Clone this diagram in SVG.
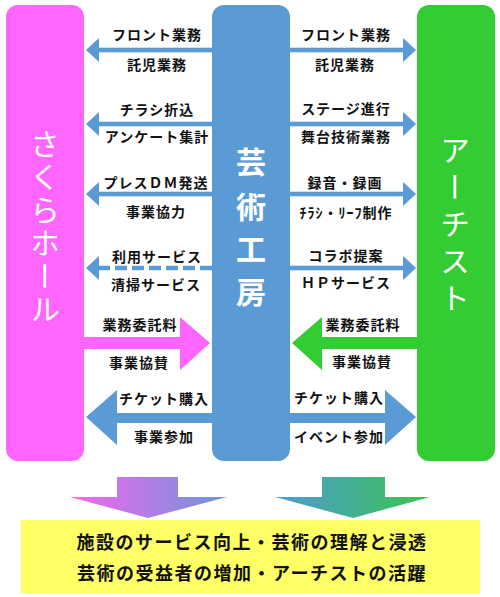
<svg xmlns="http://www.w3.org/2000/svg" width="500" height="597" viewBox="0 0 500 597">
<defs>
<style>
.lbl{font-family:"Noto Sans CJK JP","Noto Sans CJK SC",sans-serif;font-size:14px;font-weight:bold;letter-spacing:1px;text-anchor:middle;fill:#111}
.vt{font-family:"Noto Sans CJK JP","Noto Sans CJK SC",sans-serif;font-size:30px;fill:#fff;writing-mode:vertical-rl;text-orientation:upright;text-anchor:start}
.bigb{font-family:"Noto Sans CJK JP","Noto Sans CJK SC",sans-serif;font-size:30px;font-weight:bold;fill:#fff;text-anchor:middle}
.res{font-family:"Noto Sans CJK JP","Noto Sans CJK SC",sans-serif;font-size:18px;font-weight:bold;letter-spacing:1.5px;text-anchor:middle;fill:#111}
.blue{fill:#5b9bd5}
</style>
<linearGradient id="gL" x1="0" y1="0" x2="1" y2="0">
<stop offset="0" stop-color="#f466f0"/>
<stop offset="1" stop-color="#6f95d8"/>
</linearGradient>
<linearGradient id="gR" x1="0" y1="0" x2="1" y2="0">
<stop offset="0" stop-color="#4d9ad6"/>
<stop offset="1" stop-color="#3cc44c"/>
</linearGradient>
</defs>
<rect width="500" height="597" fill="#fff"/>

<g id="sakura">
<rect x="6" y="5" width="78" height="456" rx="12" fill="#ff66ff"/>
<text class="vt" x="45" y="129" style="letter-spacing:3px">さくらホール</text>
</g>

<g id="geijutsu">
<rect x="212" y="5" width="78" height="456" rx="12" fill="#5b9bd5"/>
<text class="bigb" x="251" y="173">芸</text>
<text class="bigb" x="251" y="218">術</text>
<text class="bigb" x="251" y="260">工</text>
<text class="bigb" x="251" y="303">房</text>
</g>

<g id="artist">
<rect x="417" y="5" width="78" height="456" rx="12" fill="#33cc33"/>
<text class="vt" x="455" y="135" style="letter-spacing:7px">アーチスト</text>
</g>

<g id="result">
<rect x="21" y="520" width="459" height="73" fill="#ffff66"/>
<text class="res" x="252" y="549">施設のサービス向上・芸術の理解と浸透</text>
<text class="res" x="252" y="580">芸術の受益者の増加・アーチストの活躍</text>
</g>

<g id="connectors">
<rect class="blue" x="98" y="47.7" width="114" height="4.6"/>
<polygon class="blue" points="86,50 99,38 99,62"/>
<rect class="blue" x="290" y="47.7" width="114" height="4.6"/>
<polygon class="blue" points="416,50 403,38 403,62"/>
<rect class="blue" x="98" y="121.7" width="114" height="4.6"/>
<polygon class="blue" points="86,124 99,112 99,136"/>
<rect class="blue" x="290" y="121.7" width="114" height="4.6"/>
<polygon class="blue" points="416,124 403,112 403,136"/>
<rect class="blue" x="98" y="191.7" width="114" height="4.6"/>
<polygon class="blue" points="86,194 99,182 99,206"/>
<rect class="blue" x="290" y="191.7" width="114" height="4.6"/>
<polygon class="blue" points="416,194 403,182 403,206"/>
<line x1="212" y1="268" x2="99" y2="268" stroke="#5b9bd5" stroke-width="4.6" stroke-dasharray="12 5"/>
<polygon class="blue" points="86,268 99,256 99,280"/>
<rect class="blue" x="290" y="265.7" width="114" height="4.6"/>
<polygon class="blue" points="416,268 403,256 403,280"/>
<polygon fill="#ff66ff" points="84,337 180,337 180,317 210,343 180,370 180,349 84,349"/>
<polygon fill="#33cc33" points="417,337 322,337 322,317 292,343 322,370 322,349 417,349"/>
<polygon class="blue" points="212,413 117,413 117,390 86,417 117,445 117,423 212,423"/>
<polygon class="blue" points="290,413 385,413 385,390 416,417 385,445 385,423 290,423"/>
<polygon fill="url(#gL)" points="117,477 178,477 178,497 227,497 148,518 70,497 117,497"/>
<polygon fill="url(#gR)" points="322,477 385,477 385,497 430,497 353,518 275,497 322,497"/>
</g>

<g id="labels">
<text class="lbl" x="157" y="40">フロント業務</text>
<text class="lbl" x="157" y="70">託児業務</text>
<text class="lbl" x="157" y="115">チラシ折込</text>
<text class="lbl" x="157" y="142">アンケート集計</text>
<text class="lbl" x="156" y="188">プレスＤＭ発送</text>
<text class="lbl" x="156" y="217">事業協力</text>
<text class="lbl" x="157" y="262">利用サービス</text>
<text class="lbl" x="156" y="290">清掃サービス</text>

<text class="lbl" x="346" y="40">フロント業務</text>
<text class="lbl" x="345" y="70">託児業務</text>
<text class="lbl" x="346" y="114">ステージ進行</text>
<text class="lbl" x="346" y="142">舞台技術業務</text>
<text class="lbl" x="345" y="188">録音・録画</text>
<text class="lbl" x="346" y="218">ﾁﾗｼ・ﾘｰﾌ制作</text>
<text class="lbl" x="346" y="261">コラボ提案</text>
<text class="lbl" x="346" y="288">ＨＰサービス</text>

<text class="lbl" x="140" y="330">業務委託料</text>
<text class="lbl" x="139" y="368">事業協賛</text>
<text class="lbl" x="164" y="404">チケット購入</text>
<text class="lbl" x="164" y="442">事業参加</text>

<text class="lbl" x="363" y="330">業務委託料</text>
<text class="lbl" x="362" y="367">事業協賛</text>
<text class="lbl" x="339" y="403">チケット購入</text>
<text class="lbl" x="339" y="442">イベント参加</text>
</g>
</svg>
